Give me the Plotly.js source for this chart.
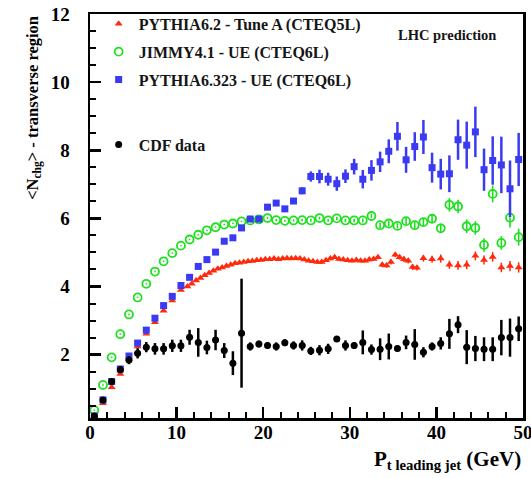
<!DOCTYPE html>
<html>
<head>
<meta charset="utf-8">
<script src="https://cdn.plot.ly/plotly-3.0.1.min.js"></script>
<style>html,body{margin:0;padding:0;background:#fff}#chart{width:531px;height:478px}</style>
</head>
<body>
<div id="chart"></div>
<script>
// ---- data ----
const binX = [0.5,1.5,2.5,3.5,4.5,5.5,6.5,7.5,8.5,9.5,10.5,11.5,12.5,13.5,14.5,15.5,16.5,17.5,18.5,19.5,
  20.5,21.5,22.5,23.5,24.5,25.5,26.5,27.5,28.5,29.5,30.5,31.5,32.5,33.5,34.5,35.5,36.5,37.5,38.5,39.5,
  40.5,41.5,42.5,43.5,44.5,45.5,46.5,47.5,48.5,49.5];

const cdfY = [0.2,0.67,1.21,1.56,1.84,2.04,2.22,2.17,2.17,2.26,2.26,2.51,2.36,2.21,2.43,2.12,1.75,2.63,2.24,2.31,
  2.27,2.24,2.35,2.27,2.27,2.11,2.13,2.17,2.46,2.27,2.27,2.36,2.15,2.16,2.24,2.18,2.36,2.3,2.07,2.24,
  2.33,2.61,2.88,2.22,2.18,2.16,2.16,2.5,2.5,2.76];
const cdfErr = [0.05,0.06,0.08,0.1,0.12,0.15,0.15,0.17,0.17,0.18,0.18,0.22,0.42,0.2,0.3,0.22,0.35,1.6,0.12,0.1,
  0.1,0.12,0.1,0.12,0.15,0.12,0.15,0.15,0.05,0.15,0.1,0.35,0.15,0.32,0.38,0.08,0.2,0.45,0.15,0.12,
  0.18,0.44,0.25,0.5,0.37,0.35,0.35,0.52,0.56,0.36];

const py323Y = [0.2,0.67,1.21,1.58,1.96,2.34,2.72,3.07,3.44,3.71,4.03,4.27,4.59,4.79,5.01,5.33,5.43,5.72,5.98,5.98,
  6.33,6.45,6.28,6.51,6.81,7.23,7.23,7.15,7.02,7.24,7.52,7.15,7.41,7.66,7.97,8.41,7.72,8.11,8.39,7.49,
  7.3,7.31,8.31,8.15,8.54,7.43,7.7,7.57,6.87,7.73];
const py323Err = [0.03,0.03,0.03,0.03,0.04,0.04,0.04,0.04,0.05,0.05,0.05,0.05,0.05,0.05,0.05,0.05,0.06,0.06,0.06,0.06,
  0.08,0.08,0.08,0.08,0.1,0.15,0.2,0.19,0.21,0.2,0.23,0.27,0.3,0.3,0.35,0.42,0.38,0.42,0.5,0.44,
  0.45,0.54,0.59,0.69,0.74,0.62,0.71,0.83,0.83,0.78];

const jimmyY = [0.37,1.11,1.92,2.6,3.18,3.68,4.08,4.44,4.74,4.98,5.2,5.38,5.52,5.65,5.74,5.82,5.85,5.91,5.94,5.97,
  6.01,5.95,5.93,5.94,5.95,5.94,6.01,5.94,6.0,5.94,5.94,5.94,6.07,5.8,5.85,5.78,5.92,5.8,5.89,5.99,
  5.71,6.4,6.35,5.77,5.72,5.22,6.72,5.28,6.02,5.45];
const jimmyErr = [0.02,0.02,0.02,0.02,0.02,0.02,0.02,0.02,0.02,0.02,0.02,0.02,0.02,0.02,0.02,0.02,0.02,0.02,0.02,0.02,
  0.03,0.03,0.03,0.03,0.03,0.04,0.04,0.04,0.05,0.05,0.05,0.06,0.06,0.08,0.08,0.08,0.1,0.1,0.12,0.12,
  0.14,0.2,0.2,0.2,0.2,0.2,0.25,0.2,0.29,0.25];

const tuneAX = [0.5,1.5,2.5,3.5,4.5,5.5,6.5,7.5,8.5,9.5,10.5,
  11.25,11.75,12.25,12.75,13.25,13.75,14.25,14.75,15.25,15.75,16.25,16.75,17.25,17.75,18.25,18.75,19.25,19.75,
  20.25,20.75,21.25,21.75,22.25,22.75,23.25,23.75,24.25,24.75,25.25,25.75,26.25,26.75,27.25,27.75,28.25,28.75,
  29.25,29.75,30.25,30.75,31.25,31.75,32.25,32.75,33.25,33.75,34.25,34.75,35.25,35.75,36.25,36.75,37.25,37.75,
  38.5,39.5,40.5,41.5,42.5,43.5,44.5,45.5,46.5,47.5,48.5,49.5];
const tuneAY = [0.2,0.57,1.04,1.43,1.87,2.24,2.61,2.95,3.29,3.59,3.9,
  4.0,4.08,4.18,4.25,4.33,4.4,4.46,4.52,4.56,4.6,4.64,4.68,4.7,4.72,4.74,4.75,4.77,4.78,
  4.8,4.8,4.82,4.8,4.82,4.83,4.82,4.83,4.82,4.79,4.76,4.74,4.72,4.72,4.77,4.82,4.86,4.81,
  4.79,4.77,4.76,4.78,4.76,4.76,4.79,4.81,4.86,4.64,4.62,4.72,4.93,4.86,4.8,4.76,4.57,4.55,
  4.83,4.8,4.82,4.64,4.62,4.64,4.9,4.78,4.87,4.56,4.6,4.56];
const tuneAErr = [0.02,0.02,0.02,0.02,0.02,0.02,0.02,0.02,0.02,0.02,0.02,
  0.03,0.03,0.03,0.03,0.03,0.03,0.03,0.03,0.03,0.03,0.03,0.03,0.03,0.03,0.03,0.03,0.03,0.03,
  0.04,0.04,0.04,0.04,0.04,0.04,0.04,0.04,0.04,0.04,0.04,0.04,0.05,0.05,0.05,0.05,0.05,0.05,
  0.05,0.05,0.05,0.05,0.05,0.05,0.06,0.06,0.06,0.07,0.07,0.07,0.07,0.07,0.08,0.08,0.08,0.08,
  0.1,0.1,0.12,0.12,0.13,0.13,0.13,0.13,0.14,0.14,0.15,0.15];

const seriesNames = ['PYTHIA6.2 - Tune A (CTEQ5L)','JIMMY4.1 - UE (CTEQ6L)','PYTHIA6.323 - UE (CTEQ6L)','CDF data'];
const xTickVals = [0,10,20,30,40,50];
const yTickVals = [2,4,6,8,10,12];

// ---- styles ----
const RED = '#ff2a0c', GREEN = '#1ee01e', BLUE = '#3a3af2', BLACK = '#000000';
const SERIF = '"Liberation Serif", "Times New Roman", serif';

const traces = [
  {x: tuneAX, y: tuneAY, name: seriesNames[0], type: 'scatter', mode: 'markers', legend: 'legend', legendgroup: 'a',
   marker: {symbol: 'triangle-up', size: 7, color: RED},
   error_y: {type: 'data', array: tuneAErr, visible: true, color: RED, thickness: 1.5, width: 0}},
  {x: binX, y: jimmyY, name: seriesNames[1], type: 'scatter', mode: 'markers', legend: 'legend', legendgroup: 'b',
   marker: {symbol: 'circle-open', size: 8, color: GREEN, line: {width: 1.8, color: GREEN}},
   error_y: {type: 'data', array: jimmyErr, visible: true, color: GREEN, thickness: 1.6, width: 0}},
  {x: binX, y: py323Y, name: seriesNames[2], type: 'scatter', mode: 'markers', legend: 'legend', legendgroup: 'c',
   marker: {symbol: 'square', size: 7, color: BLUE},
   error_y: {type: 'data', array: py323Err, visible: true, color: BLUE, thickness: 2.5, width: 0},
   error_x: {type: 'constant', value: 0.3, visible: true, color: BLUE, thickness: 2.5, width: 0}},
  {x: binX, y: cdfY, name: seriesNames[3], type: 'scatter', mode: 'markers', legend: 'legend2',
   marker: {symbol: 'circle', size: 7, color: BLACK},
   error_y: {type: 'data', array: cdfErr, visible: true, color: BLACK, thickness: 2.5, width: 0},
   error_x: {type: 'constant', value: 0.35, visible: true, color: BLACK, thickness: 2.5, width: 0}}
];

const axisCommon = {
  showgrid: false, zeroline: false, showline: true, mirror: true,
  linecolor: '#000', linewidth: 2.5, ticks: 'inside', tickcolor: '#000', tickwidth: 2.5,
  ticklabeloverflow: 'allow',
  tickfont: {family: SERIF, size: 19, color: '#000', weight: 'bold'}
};

const legendFont = {family: SERIF, size: 16, color: '#151515', weight: 'bold'};

const layout = {
  width: 531, height: 478,
  margin: {l: 90, r: 8, t: 13, b: 60},
  paper_bgcolor: '#fff', plot_bgcolor: '#fff',
  showlegend: true,
  xaxis: Object.assign({}, axisCommon, {
    range: [0, 50], tickvals: xTickVals, ticklen: 11, ticklabelstandoff: -4,
    minor: {dtick: 2, ticks: 'inside', ticklen: 6, tickwidth: 2, tickcolor: '#000'}
  }),
  yaxis: Object.assign({}, axisCommon, {
    range: [0.14, 12.001], tickvals: yTickVals, ticklen: 11, ticklabelstandoff: 14,
    minor: {dtick: 0.5, ticks: 'inside', ticklen: 6, tickwidth: 2, tickcolor: '#000'}
  }),
  legend: {x: 0.02, xanchor: 'left', y: 1.015, yanchor: 'top', bgcolor: 'rgba(0,0,0,0)',
    traceorder: 'grouped', font: legendFont, tracegroupgap: 4, itemwidth: 30},
  legend2: {x: 0.02, xanchor: 'left', y: 0.717, yanchor: 'top', bgcolor: 'rgba(0,0,0,0)',
    font: legendFont},
  annotations: [
    {text: 'LHC prediction', xref: 'paper', yref: 'paper', x: 0.825, y: 0.948, xanchor: 'center', yanchor: 'middle',
     showarrow: false, font: {family: SERIF, size: 14.5, color: '#151515', weight: 'bold'}},
    {text: '&lt;N<sub>chg</sub>&gt; - transverse region', xref: 'paper', yref: 'paper', x: -0.132, y: 1.0,
     xanchor: 'center', yanchor: 'top', textangle: -90, showarrow: false,
     font: {family: SERIF, size: 16.5, color: '#000', weight: 'bold'}},
    {text: 'P<sub>t leading jet</sub> (GeV)', xref: 'paper', yref: 'paper', x: 1.0, y: -0.066,
     xanchor: 'right', yanchor: 'top', showarrow: false,
     font: {family: SERIF, size: 21, color: '#000', weight: 'bold'}}
  ]
};

Plotly.newPlot('chart', traces, layout, {staticPlot: true, displayModeBar: false});
</script>
</body>
</html>
